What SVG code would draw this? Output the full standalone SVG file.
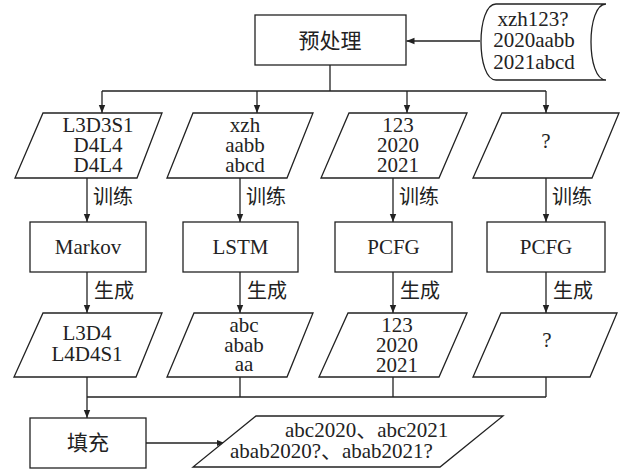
<svg xmlns="http://www.w3.org/2000/svg" width="623" height="470" viewBox="0 0 623 470">
<style>
.s{fill:#fff;stroke:#222;stroke-width:1.3}
.c{fill:none;stroke:#222;stroke-width:1.3}
.l{text-anchor:start}
</style>
<defs>
<marker id="ah" markerUnits="userSpaceOnUse" markerWidth="8" markerHeight="8" viewBox="0 0 8 8" refX="8" refY="4" orient="auto">
<path d="M0,0.8 L8,4 L0,7.2 Z" fill="#222"/>
</marker>
</defs>
<g font-family="'Liberation Serif', 'Times New Roman', 'DejaVu Serif', 'Noto Sans CJK SC', serif" font-size="21" fill="#222" text-anchor="middle">
<g id="connectors">
<path class="c" d="M480,41 H406.5" marker-end="url(#ah)"/>
<path class="c" d="M330,65 V91 M102,91 H546"/>
<path class="c" d="M102,91 V113" marker-end="url(#ah)"/>
<path class="c" d="M257,91 V113" marker-end="url(#ah)"/>
<path class="c" d="M407,91 V113" marker-end="url(#ah)"/>
<path class="c" d="M546,91 V113" marker-end="url(#ah)"/>
<path class="c" d="M87,178 V222" marker-end="url(#ah)"/>
<path class="c" d="M240,178 V222" marker-end="url(#ah)"/>
<path class="c" d="M393,178 V222" marker-end="url(#ah)"/>
<path class="c" d="M546,178 V222" marker-end="url(#ah)"/>
<path class="c" d="M87,272 V313" marker-end="url(#ah)"/>
<path class="c" d="M240,272 V313" marker-end="url(#ah)"/>
<path class="c" d="M393,272 V313" marker-end="url(#ah)"/>
<path class="c" d="M546,272 V313" marker-end="url(#ah)"/>
<path class="c" d="M240,377 V397 M393,377 V397 M546,377 V397 M87,397 H546"/>
<path class="c" d="M87,377 V418" marker-end="url(#ah)"/>
<path class="c" d="M146,443 H224.5" marker-end="url(#ah)"/>
<g font-size="20" text-anchor="start">
<text x="93" y="204">训练</text>
<text x="246" y="204">训练</text>
<text x="399" y="204">训练</text>
<text x="552" y="204">训练</text>
<text x="94" y="298">生成</text>
<text x="247" y="298">生成</text>
<text x="400" y="298">生成</text>
<text x="553" y="298">生成</text>
</g>
</g>
<g id="input">
<path class="s" d="M606,4 H496 C476,4 476,80 496,80 H606 C586,80 586,4 606,4 Z"/>
<text x="534"><tspan x="533" y="26">xzh123?</tspan><tspan x="534" y="47">2020aabb</tspan><tspan x="534" y="69">2021abcd</tspan></text>
</g>
<g id="preprocess">
<rect class="s" x="255" y="15" width="151" height="50"/>
<text x="330" y="48">预处理</text>
</g>
<g id="d1">
<polygon class="s" points="43,113 162,113 137,178 15,178"/>
<text><tspan x="98" y="132">L3D3S1</tspan><tspan x="98" y="152">D4L4</tspan><tspan x="98" y="172">D4L4</tspan></text>
</g>
<g id="d2">
<polygon class="s" points="193,113 313,113 287,178 167,178"/>
<text><tspan x="245" y="132">xzh</tspan><tspan x="245" y="152">aabb</tspan><tspan x="245" y="172">abcd</tspan></text>
</g>
<g id="d3">
<polygon class="s" points="349,113 467,113 439,178 321,178"/>
<text><tspan x="398" y="132">123</tspan><tspan x="398" y="152">2020</tspan><tspan x="398" y="172">2021</tspan></text>
</g>
<g id="d4">
<polygon class="s" points="502,113 619,113 592,178 473,178"/>
<text x="546" y="148">?</text>
</g>
<g id="markov">
<rect class="s" x="30" y="222" width="116" height="50"/>
<text x="88" y="254">Markov</text>
</g>
<g id="lstm">
<rect class="s" x="183" y="222" width="115" height="50"/>
<text x="240.5" y="254">LSTM</text>
</g>
<g id="pcfg1">
<rect class="s" x="335" y="222" width="117" height="50"/>
<text x="393.5" y="254">PCFG</text>
</g>
<g id="pcfg2">
<rect class="s" x="487" y="222" width="118" height="50"/>
<text x="546" y="254">PCFG</text>
</g>
<g id="g1">
<polygon class="s" points="43,313 162,313 136,377 14,377"/>
<text><tspan x="87" y="340">L3D4</tspan><tspan x="87" y="361">L4D4S1</tspan></text>
</g>
<g id="g2">
<polygon class="s" points="194,313 313,313 287,377 167,377"/>
<text><tspan x="244" y="332">abc</tspan><tspan x="244" y="352">abab</tspan><tspan x="244" y="371">aa</tspan></text>
</g>
<g id="g3">
<polygon class="s" points="348,313 467,313 439,377 319,377"/>
<text><tspan x="397" y="332">123</tspan><tspan x="397" y="352">2020</tspan><tspan x="397" y="372">2021</tspan></text>
</g>
<g id="g4">
<polygon class="s" points="501,313 617,313 590,377 473,377"/>
<text x="547" y="347">?</text>
</g>
<g id="fill">
<rect class="s" x="30" y="418" width="116" height="50"/>
<text x="88" y="450">填充</text>
</g>
<g id="output">
<polygon class="s" points="256,416 503,416 440,467 193,467"/>
<text text-anchor="start"><tspan x="285" y="437">abc2020、abc2021</tspan><tspan x="230" y="458">abab2020?、abab2021?</tspan></text>
</g>
</g>
</svg>
